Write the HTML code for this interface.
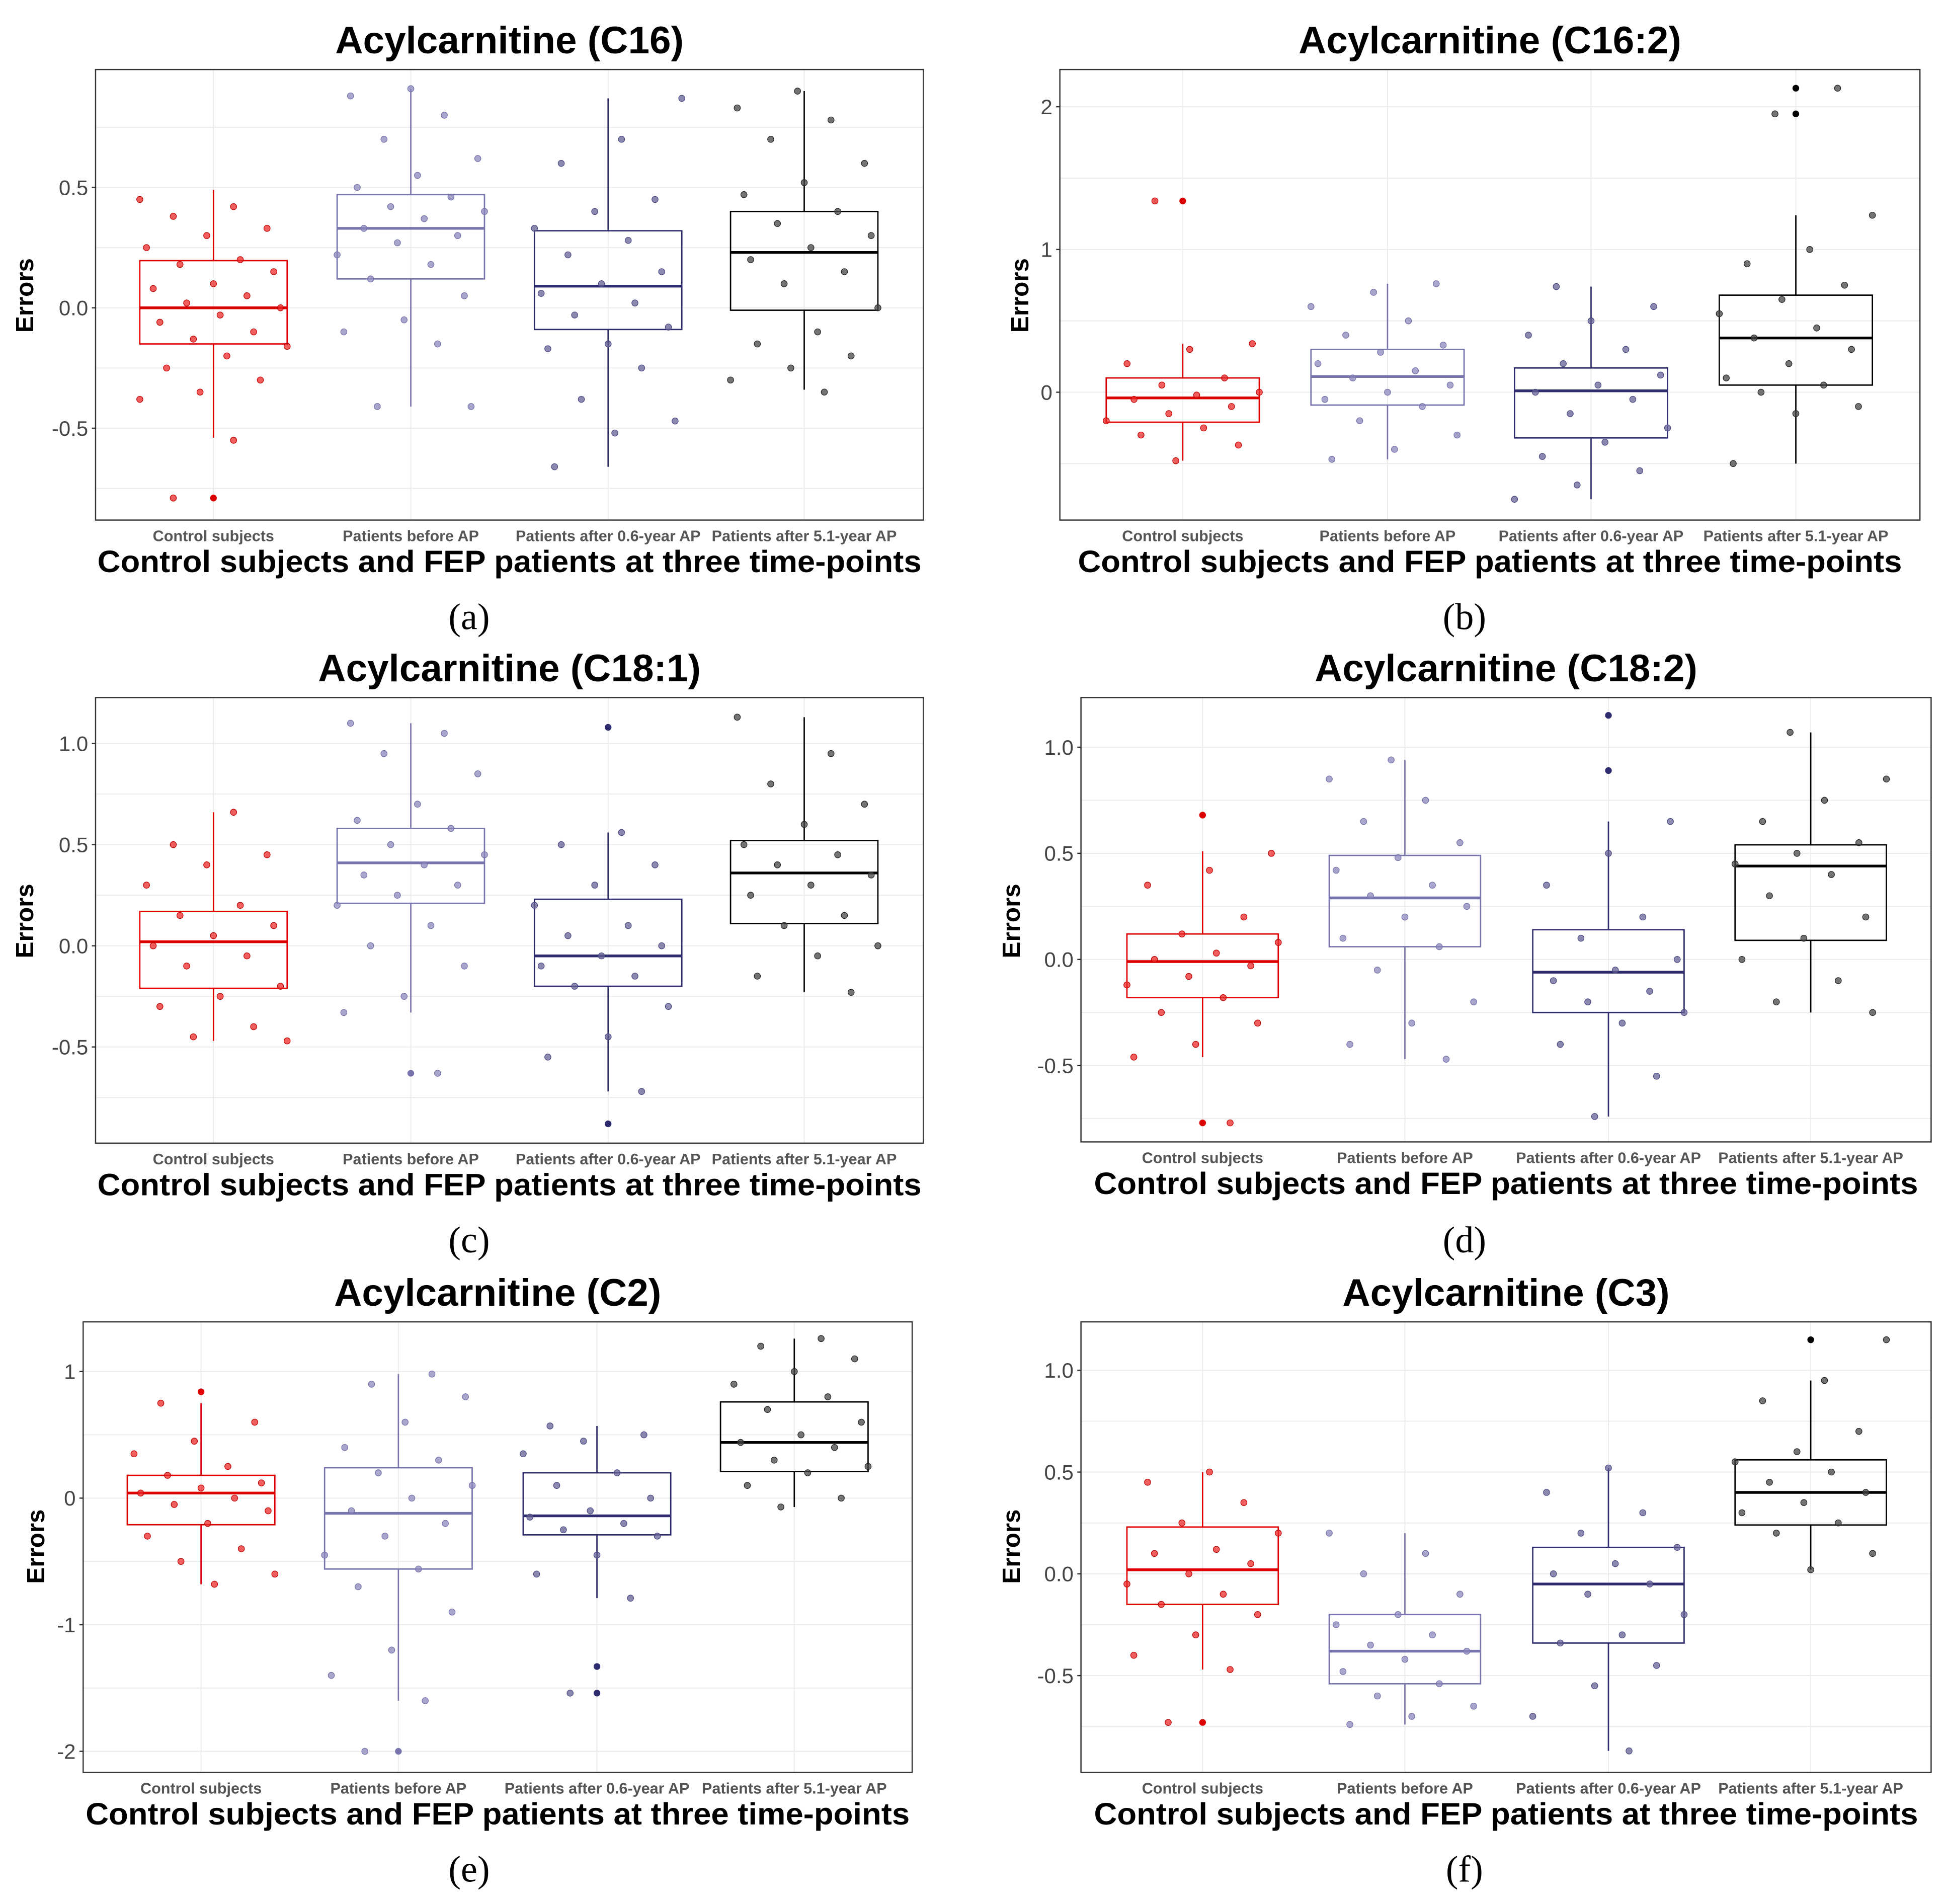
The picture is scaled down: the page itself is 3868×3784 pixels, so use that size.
<!DOCTYPE html>
<html><head><meta charset="utf-8"><style>
html,body{margin:0;padding:0;background:#fff;}
svg{display:block;}
</style></head><body>
<svg id="fig" width="3868" height="3784" viewBox="0 0 1568 1534" preserveAspectRatio="none" xmlns="http://www.w3.org/2000/svg"></svg>
<script>
const groupNames = ["Control subjects","Patients before AP","Patients after 0.6-year AP","Patients after 5.1-year AP"];
const titles = ["Acylcarnitine (C16)","Acylcarnitine (C16:2)","Acylcarnitine (C18:1)","Acylcarnitine (C18:2)","Acylcarnitine (C2)","Acylcarnitine (C3)"];
const letters = ["(a)","(b)","(c)","(d)","(e)","(f)"];
const tickValues = [[0.5,0,-0.5],[2,1,0],[1,0.5,0,-0.5],[1,0.5,0,-0.5],[1,0,-1,-2],[1,0.5,0,-0.5]];
const tickLabels = [["0.5","0.0","-0.5"],["2","1","0"],["1.0","0.5","0.0","-0.5"],["1.0","0.5","0.0","-0.5"],["1","0","-1","-2"],["1.0","0.5","0.0","-0.5"]];
// boxes: [q1, median, q3, whiskerLow, whiskerHigh] per group
const boxA = [[-0.15,0,0.196,-0.54,0.49],[0.12,0.33,0.47,-0.41,0.91],[-0.09,0.09,0.32,-0.66,0.87],[-0.01,0.23,0.40,-0.34,0.90]];
const boxB = [[-0.21,-0.04,0.10,-0.48,0.34],[-0.09,0.11,0.30,-0.47,0.76],[-0.32,0.01,0.17,-0.75,0.74],[0.05,0.38,0.68,-0.50,1.24]];
const boxC = [[-0.21,0.02,0.17,-0.47,0.66],[0.21,0.41,0.58,-0.33,1.10],[-0.20,-0.05,0.23,-0.72,0.56],[0.11,0.36,0.52,-0.23,1.13]];
const boxD = [[-0.18,-0.01,0.12,-0.46,0.51],[0.06,0.29,0.49,-0.47,0.94],[-0.25,-0.06,0.14,-0.74,0.65],[0.09,0.44,0.54,-0.25,1.07]];
const boxE = [[-0.21,0.04,0.18,-0.68,0.75],[-0.56,-0.12,0.24,-1.60,0.98],[-0.29,-0.14,0.20,-0.79,0.57],[0.21,0.44,0.76,-0.07,1.26]];
const boxF = [[-0.15,0.02,0.23,-0.47,0.50],[-0.54,-0.38,-0.20,-0.74,0.20],[-0.34,-0.05,0.13,-0.87,0.52],[0.24,0.40,0.56,0.02,0.95]];
const outA = [[-0.79],[],[],[]];
const outB = [[1.34],[],[],[2.13,1.95]];
const outC = [[],[-0.63],[1.08,-0.88],[]];
const outD = [[0.68,-0.77],[],[1.15,0.89],[]];
const outE = [[0.84],[-2.0],[-1.33,-1.54],[]];
const outF = [[-0.73],[],[],[1.15]];
const ptsA = [[0.45,0.42,0.38,0.33,0.3,0.25,0.2,0.18,0.15,0.1,0.08,0.05,0.02,0,-0.03,-0.06,-0.1,-0.13,-0.16,-0.2,-0.25,-0.3,-0.35,-0.38,-0.55,-0.79],
[0.91,0.88,0.8,0.7,0.62,0.55,0.5,0.46,0.42,0.4,0.37,0.33,0.3,0.27,0.22,0.18,0.12,0.05,-0.05,-0.1,-0.15,-0.41,-0.41],
[0.87,0.7,0.6,0.45,0.4,0.33,0.28,0.22,0.15,0.1,0.06,0.02,-0.03,-0.08,-0.15,-0.17,-0.25,-0.38,-0.47,-0.52,-0.66],
[0.9,0.83,0.78,0.7,0.6,0.52,0.47,0.4,0.35,0.3,0.25,0.2,0.15,0.1,0,-0.1,-0.15,-0.2,-0.25,-0.3,-0.35]];
const ptsB = [[1.34,0.34,0.3,0.2,0.1,0.05,0,-0.02,-0.05,-0.1,-0.15,-0.2,-0.25,-0.3,-0.37,-0.48],
[0.76,0.7,0.6,0.5,0.4,0.33,0.28,0.2,0.15,0.1,0.05,0,-0.05,-0.1,-0.2,-0.3,-0.4,-0.47],
[0.74,0.6,0.5,0.4,0.3,0.2,0.12,0.05,0,-0.05,-0.15,-0.25,-0.35,-0.45,-0.55,-0.65,-0.75],
[2.13,1.95,1.24,1.0,0.9,0.75,0.65,0.55,0.45,0.38,0.3,0.2,0.1,0.05,0,-0.1,-0.15,-0.5]];
const ptsC = [[0.66,0.5,0.45,0.4,0.3,0.2,0.15,0.1,0.05,0,-0.05,-0.1,-0.2,-0.25,-0.3,-0.4,-0.45,-0.47],
[1.1,1.05,0.95,0.85,0.7,0.62,0.58,0.5,0.45,0.4,0.35,0.3,0.25,0.2,0.1,0,-0.1,-0.25,-0.33,-0.63],
[0.56,0.5,0.4,0.3,0.2,0.1,0.05,0,-0.05,-0.1,-0.15,-0.2,-0.3,-0.45,-0.55,-0.72],
[1.13,0.95,0.8,0.7,0.6,0.5,0.45,0.4,0.35,0.3,0.25,0.15,0.1,0,-0.05,-0.15,-0.23]];
const ptsD = [[0.5,0.42,0.35,0.2,0.12,0.08,0.03,0,-0.03,-0.08,-0.12,-0.18,-0.25,-0.3,-0.4,-0.46,-0.77],
[0.94,0.85,0.75,0.65,0.55,0.48,0.42,0.35,0.3,0.25,0.2,0.1,0.06,-0.05,-0.2,-0.3,-0.4,-0.47],
[0.65,0.5,0.35,0.2,0.1,0,-0.05,-0.1,-0.15,-0.2,-0.25,-0.3,-0.4,-0.55,-0.74],
[1.07,0.85,0.75,0.65,0.55,0.5,0.45,0.4,0.3,0.2,0.1,0,-0.1,-0.2,-0.25]];
const ptsE = [[0.75,0.6,0.45,0.35,0.25,0.18,0.12,0.08,0.04,0,-0.05,-0.1,-0.2,-0.3,-0.4,-0.5,-0.6,-0.68],
[0.98,0.9,0.8,0.6,0.4,0.3,0.2,0.1,0,-0.1,-0.2,-0.3,-0.45,-0.56,-0.7,-0.9,-1.2,-1.4,-1.6,-2.0],
[0.57,0.5,0.45,0.35,0.2,0.1,0,-0.1,-0.15,-0.2,-0.25,-0.3,-0.45,-0.6,-0.79,-1.54],
[1.26,1.2,1.1,1.0,0.9,0.8,0.7,0.6,0.5,0.44,0.4,0.3,0.25,0.2,0.1,0,-0.07]];
const ptsF = [[0.5,0.45,0.35,0.25,0.2,0.12,0.1,0.05,0,-0.05,-0.1,-0.15,-0.2,-0.3,-0.4,-0.47,-0.73],
[0.2,0.1,0,-0.1,-0.2,-0.25,-0.3,-0.35,-0.38,-0.42,-0.48,-0.54,-0.6,-0.65,-0.7,-0.74],
[0.52,0.4,0.3,0.2,0.13,0.05,0,-0.05,-0.1,-0.2,-0.3,-0.34,-0.45,-0.55,-0.7,-0.87],
[1.15,0.95,0.85,0.7,0.6,0.55,0.5,0.45,0.4,0.35,0.3,0.25,0.2,0.1,0.02]];
const boxes=[boxA,boxB,boxC,boxD,boxE,boxF];
const outs=[outA,outB,outC,outD,outE,outF];
const pts=[ptsA,ptsB,ptsC,ptsD,ptsE,ptsF];

const layout=[
 {x0:77,x1:744,y0:56,y1:419,z:248,u:194,cx:[172,331,490,648],ly:452,lx:378,lety:497,ey:238,ex:20},
 {x0:854,x1:1547,y0:56,y1:419,z:316,u:115,cx:[953,1118,1282,1447],ly:452,lx:1180,lety:497,ey:238,ex:822},
 {x0:77,x1:744,y0:562,y1:921,z:762,u:163,cx:[172,331,490,648],ly:954,lx:378,lety:999,ey:742,ex:20},
 {x0:871,x1:1556,y0:562,y1:920,z:773,u:171,cx:[969,1132,1296,1459],ly:953,lx:1180,lety:999,ey:742,ex:815},
 {x0:67,x1:735,y0:1065,y1:1428,z:1207,u:102,cx:[162,321,481,640],ly:1461,lx:378,lety:1506,ey:1246,ex:29},
 {x0:871,x1:1556,y0:1065,y1:1428,z:1268,u:164,cx:[969,1132,1296,1459],ly:1461,lx:1180,lety:1506,ey:1246,ex:815}];
const boxStroke=["#dd0000","#7874ae","#2e2b6e","#000000"];
const ptFill=["rgba(235,40,40,0.75)","rgba(140,136,190,0.75)","rgba(100,98,150,0.75)","rgba(70,70,70,0.75)"];
const ptStroke=["#c00000","#7470a8","#4a4880","#222"];
const outFill=["#dd0000","#7874ae","#2e2b6e","#000"];

const NS="http://www.w3.org/2000/svg";
const svg=document.getElementById('fig');
function mk(tag,attrs,parent,text){const e=document.createElementNS(NS,tag);for(const k in attrs)e.setAttribute(k,attrs[k]);if(text!==undefined)e.textContent=text;(parent||svg).appendChild(e);return e;}

layout.forEach((L,p)=>{
  const g=mk('g',{});
  
  
  const yv=v=>L.z-v*L.u;
  const pw=L.x1-L.x0;
  const bg=mk('rect',{x:L.x0,y:L.y0,width:pw,height:L.y1-L.y0,fill:'#fff'},g);
  
  
  const tv=tickValues[p];const step=Math.abs(tv[0]-tv[1]);
  for(let v=tv[0]+step/2*3;v>=tv[tv.length-1]-step*1.5;v-=step/2){
    const y=yv(v); if(y<=L.y0||y>=L.y1)continue;
    mk('line',{x1:L.x0,x2:L.x1,y1:y,y2:y,stroke:'#ebebeb','stroke-width':0.8},g);
  }
  L.cx.forEach(x=>mk('line',{x1:x,x2:x,y1:L.y0,y2:L.y1,stroke:'#ebebeb','stroke-width':0.8},g));
  boxes[p].forEach((b,i)=>{
    const cx=L.cx[i],hw=pw*0.089;
    const bx=mk('g',{},g);
    
    
    mk('line',{x1:cx,x2:cx,y1:yv(b[4]),y2:yv(b[2]),stroke:boxStroke[i],'stroke-width':1.1},bx);
    mk('line',{x1:cx,x2:cx,y1:yv(b[0]),y2:yv(b[3]),stroke:boxStroke[i],'stroke-width':1.1},bx);
    mk('rect',{x:cx-hw,y:yv(b[2]),width:2*hw,height:yv(b[0])-yv(b[2]),fill:'none',stroke:boxStroke[i],'stroke-width':1.1},bx);
    mk('line',{x1:cx-hw,x2:cx+hw,y1:yv(b[1]),y2:yv(b[1]),stroke:boxStroke[i],'stroke-width':2.2},bx);
    outs[p][i].forEach(v=>{
      const o=mk('circle',{cx:cx,cy:yv(v),r:2.7,fill:outFill[i]},bx);
      
      
    });
    pts[p][i].forEach((v,k)=>{
      const j=(((k*37+i*11+p*7)%23)/22-0.5)*2*hw;
      const c=mk('circle',{cx:cx+j,cy:yv(v),r:2.5,fill:ptFill[i],stroke:ptStroke[i],'stroke-width':0.5},bx);
      
      
    });
  });
  mk('rect',{x:L.x0,y:L.y0,width:pw,height:L.y1-L.y0,fill:'none',stroke:'#333','stroke-width':1},g);
  tv.forEach((v,k)=>{
    const y=yv(v);
    mk('line',{x1:L.x0-3,x2:L.x0,y1:y,y2:y,stroke:'#333','stroke-width':1},g);
    const t=mk('text',{x:L.x0-6,y:y+6,'text-anchor':'end','font-family':'Liberation Sans, sans-serif','font-size':17,fill:'#444'},g,tickLabels[p][k]);
    
    
  });
  L.cx.forEach((x,i)=>{
    const t=mk('text',{x:x,y:L.y1+17,'text-anchor':'middle','font-family':'Liberation Sans, sans-serif','font-size':12.4,'font-weight':'bold',fill:'#555'},g,groupNames[i]);
    
    
  });
  const tt=mk('text',{x:(L.x0+L.x1)/2,y:L.y0-13,'text-anchor':'middle','font-family':'Liberation Sans, sans-serif','font-size':31,'font-weight':'bold',fill:'#000'},g,titles[p]);
  
  
  const xt=mk('text',{x:(L.x0+L.x1)/2,y:L.ly+9,'text-anchor':'middle','font-family':'Liberation Sans, sans-serif','font-size':25,'font-weight':'bold',fill:'#000',textLength:664,lengthAdjust:'spacingAndGlyphs'},g,'Control subjects and FEP patients at three time-points');
  
  
  const yt=mk('text',{x:L.ex,y:L.ey,'text-anchor':'middle','dominant-baseline':'central','font-family':'Liberation Sans, sans-serif','font-size':20,'font-weight':'bold',fill:'#000',transform:`rotate(-90 ${L.ex} ${L.ey})`},g,'Errors');
  
  
  const lt=mk('text',{x:L.lx,y:L.lety+10,'text-anchor':'middle','font-family':'Liberation Serif, serif','font-size':30,fill:'#000'},g,letters[p]);
  
  
});
</script>
</body></html>
